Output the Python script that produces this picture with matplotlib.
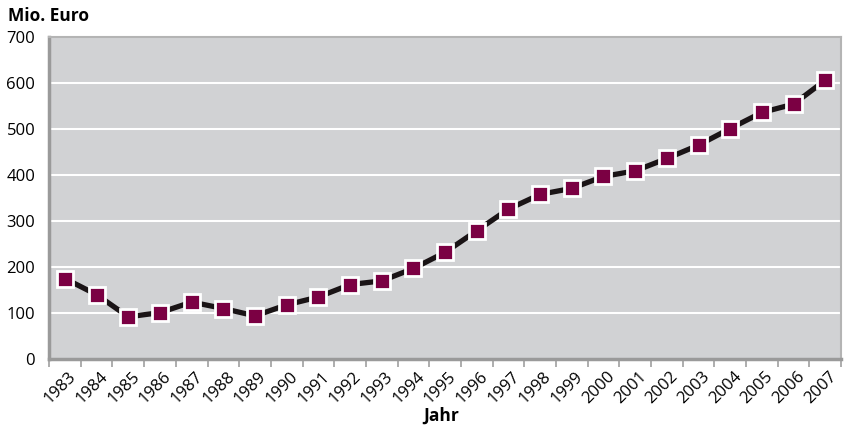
import numpy as np
import matplotlib
matplotlib.use("Agg")
import matplotlib.pyplot as plt
from matplotlib.transforms import ScaledTranslation

years = [str(y) for y in range(1983, 2008)]
values = [175, 140, 92, 101, 124, 110, 94, 118, 135, 162, 170, 197, 232,
          279, 326, 358, 371, 397, 409, 436, 465, 501, 536, 554, 606]

plt.rcParams['font.family'] = ['Open Sans', 'DejaVu Sans']

fig = plt.figure(figsize=(8.47, 4.25), dpi=100)
ax = fig.add_axes([0.058, 0.155, 0.935, 0.758])

x = np.arange(len(years))
ax.set_facecolor('#d1d2d4')
ax.plot(x, values, color='#1a1416', lw=3.8, solid_capstyle='butt', zorder=3)
ax.plot(x, values, ls='none', marker='s', ms=11.5, mfc='#7b0043',
        mec='white', mew=2, zorder=4)

ax.set_ylim(0, 700)
ax.set_xlim(-0.5, len(years) - 0.5)
ax.set_yticks(range(0, 701, 100))
ax.yaxis.grid(True, color='white', lw=1.5)
ax.set_axisbelow(True)
ax.tick_params(axis='y', length=0, pad=10, labelsize=12)

# tick marks at category edges, labels at the right edge of each year
ax.set_xticks(x + 0.5)
ax.set_xticklabels(years, rotation=45, ha='right', va='center',
                   rotation_mode='anchor', fontsize=12)
ax.set_xticks([-0.5], minor=True)
ax.tick_params(axis='x', which='both', length=6, color='#a0a0a0', width=1.2, pad=4)
shift = ScaledTranslation(-7 / 100, -1 / 100, fig.dpi_scale_trans)
for lab in ax.get_xticklabels():
    lab.set_transform(lab.get_transform() + shift)

for s in ['left', 'bottom']:
    ax.spines[s].set_color('#9a9a9a')
    ax.spines[s].set_linewidth(2.5)
for s in ['top', 'right']:
    ax.spines[s].set_color('#b4b4b4')
    ax.spines[s].set_linewidth(1.5)

fig.text(0.009, 0.963, 'Mio. Euro', fontsize=12.5, fontweight='bold', va='center')
fig.text(0.521, 0.011, 'Jahr', fontsize=12.5, fontweight='bold',
         ha='center', va='baseline')

fig.savefig('out.png', dpi=100)
